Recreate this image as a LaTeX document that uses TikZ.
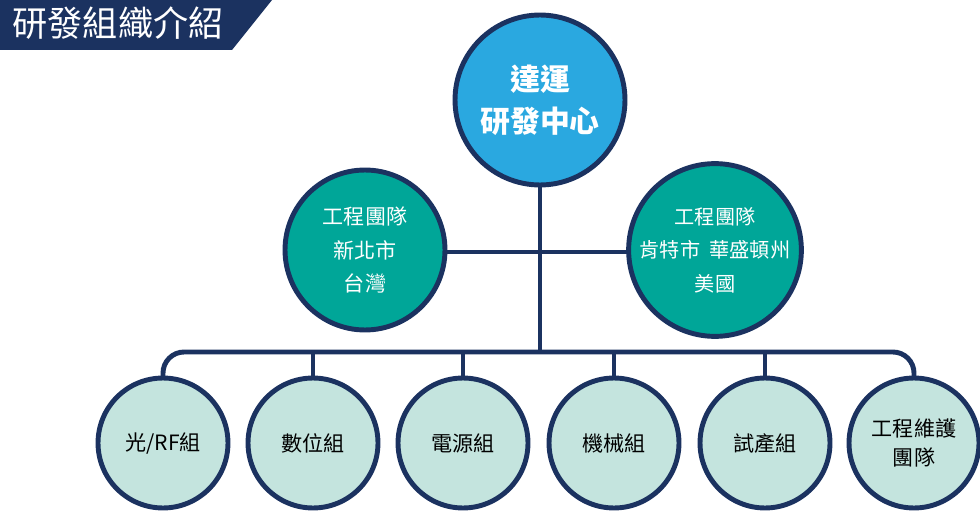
\documentclass[tikz,border=0pt]{standalone}
\usepackage{fontspec}
\setmainfont{Noto Sans CJK TC}
\usetikzlibrary{positioning}
\definecolor{navy}{HTML}{1B3260}
\definecolor{topblue}{HTML}{2AA8E0}
\definecolor{teal}{HTML}{00A698}
\definecolor{mint}{HTML}{C4E4DE}
\tikzset{
  unit/.style={circle,draw=navy,line width=2.8pt,align=center,inner sep=0pt},
  head/.style={unit,fill=topblue,minimum size=3.4cm,text=white,font=\fontsize{17}{24}\selectfont\bfseries},
  team/.style={unit,fill=teal,minimum size=3.2cm,text=white,font=\fontsize{12}{19}\selectfont},
  group/.style={unit,fill=mint,minimum size=2.6cm,font=\fontsize{12}{17}\selectfont},
  link/.style={draw=navy,line width=2.8pt}
}
\begin{document}
\begin{tikzpicture}[x=0.02cm,y=-0.02cm]
  \useasboundingbox (0,0) rectangle (980,513);
  % banner
  \fill[navy] (0,0) -- (272,0) -- (232,50) -- (0,50) -- cycle;
  \node[text=white,font=\fontsize{20}{24}\selectfont] (title) at (118,23) {研發組織介紹};
  % connectors
  \coordinate (bus) at (540,352);
  \draw[link] (540,150) -- (bus);
  \draw[link] (365,252) -- (715,252);
  \draw[link,rounded corners=12pt] (163,400) -- (163,352) -- (914,352) -- (914,400);
  \foreach \x in {313,463,614,765} \draw[link] (\x,352) -- (\x,400);
  % nodes
  \node[head] (rd) at (540,100) {達運\\研發中心};
  \node[team] (tw) at (365,250) {工程團隊\\新北市\\台灣};
  \node[team,font=\fontsize{11.5}{19}\selectfont] (us) at (715,250) {工程團隊\\肯特市\ \ 華盛頓州\\美國};
  \node[group] (rf) at (163,443) {光/RF組};
  \node[group] (dig) at (313,443) {數位組};
  \node[group] (pwr) at (463,443) {電源組};
  \node[group] (mech) at (614,443) {機械組};
  \node[group] (pilot) at (765,443) {試產組};
  \node[group] (maint) at (914,443) {工程維護\\團隊};
\end{tikzpicture}
\end{document}
